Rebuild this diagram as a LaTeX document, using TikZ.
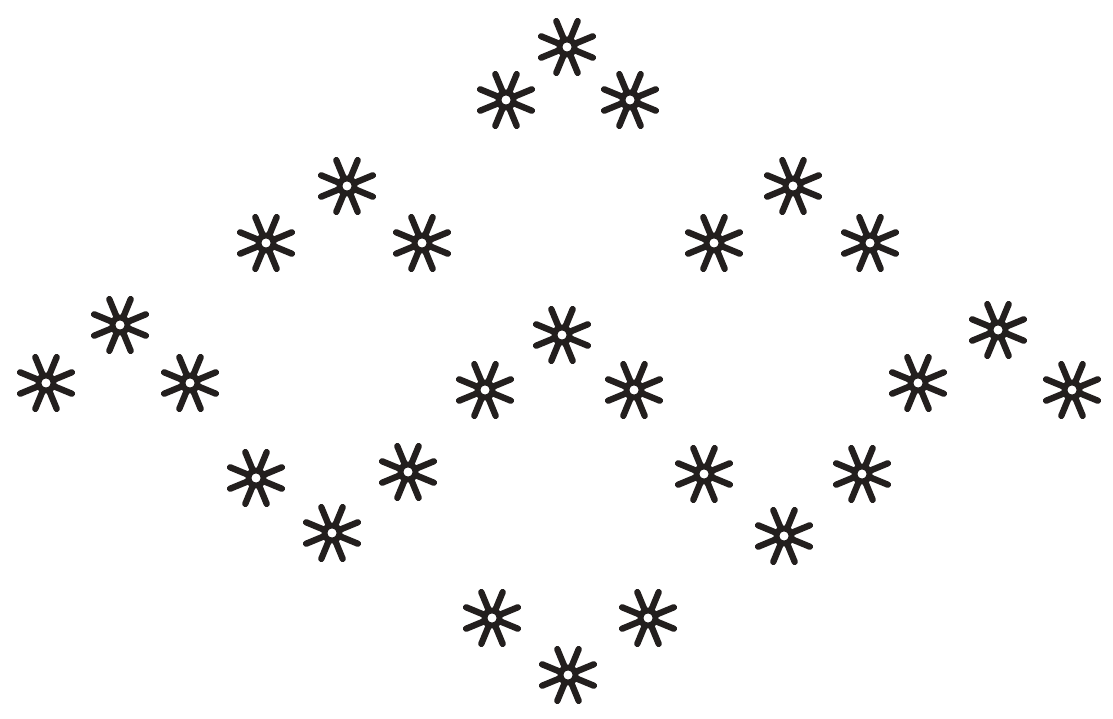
\documentclass[tikz,border=0pt]{standalone}
\usepackage{tikz}
\usepackage{xcolor}
\definecolor{Ink}{HTML}{231F1E}
\tikzset{
  ray/.style={draw=Ink,line width=3.6pt,line cap=round},
  hub/.style={draw=Ink,line width=3.4pt},
  flower/.pic={
    \foreach \a in {22.5,67.5,...,337.5}
      \draw[ray] (\a:9) -- (\a:28);
    \draw[hub] (0,0) circle (7.5);
  }
}
\begin{document}
\begin{tikzpicture}[x=0.02cm,y=-0.02cm]
  \useasboundingbox (0,0) rectangle (1113,719);
  % groups of three, top to bottom
  \foreach \x/\y in {567/47,506/100,630/100,
                     347/186,266/243,422/243,
                     793/186,714/243,870/243,
                     120/325,46/383,190/383,
                     562/335,485/390,634/390,
                     998/330,918/383,1072/390,
                     256/478,408/472,332/533,
                     704/474,862/474,784/536,
                     492/618,648/618,568/675}
    \pic at (\x,\y) {flower};
\end{tikzpicture}
\end{document}
